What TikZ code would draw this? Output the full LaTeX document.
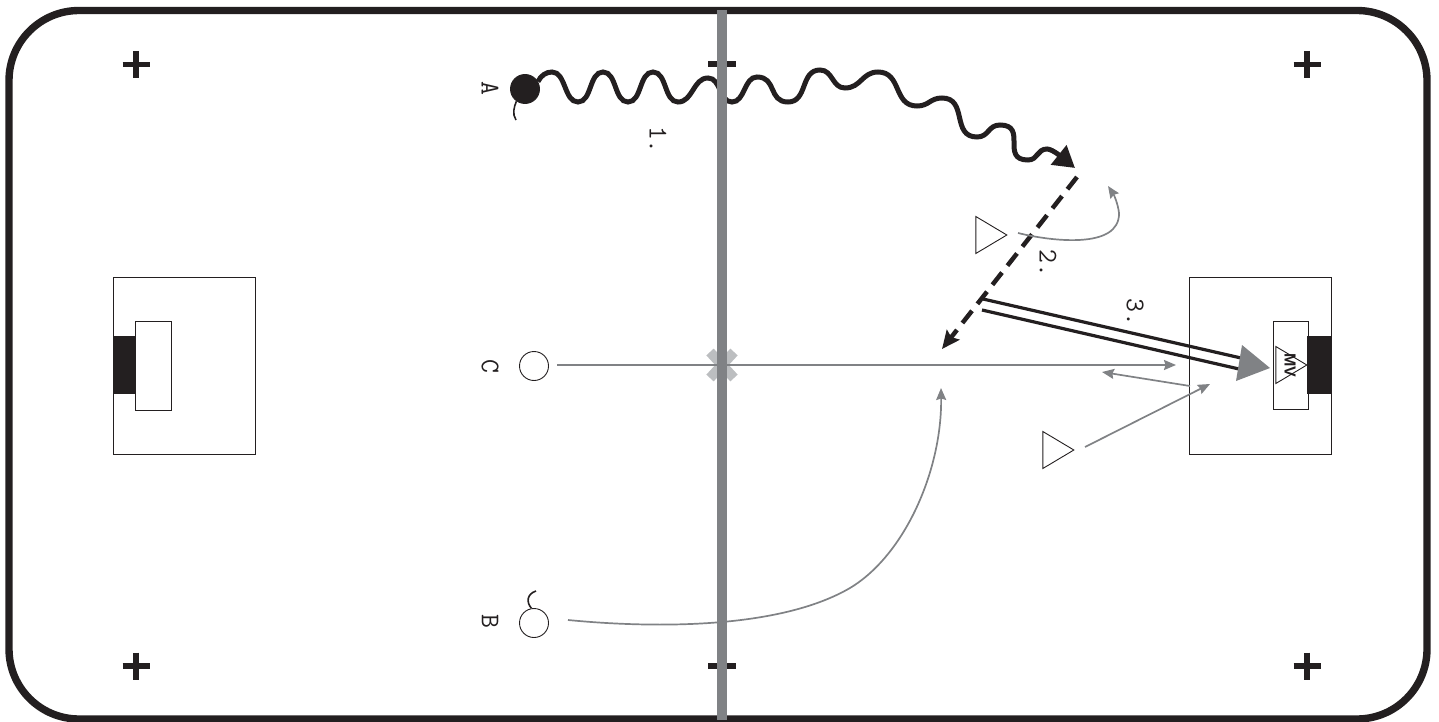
\documentclass[tikz,border=0pt]{standalone}
\usepackage{fontspec}
\setsansfont{Liberation Sans}
\usetikzlibrary{positioning,arrows.meta,shapes.geometric}
\definecolor{inkblack}{HTML}{231F20}
\definecolor{linegray}{HTML}{808285}
\definecolor{crossgray}{HTML}{BCBEC0}
\tikzset{
  rink/.style={draw=inkblack,line width=7.4pt,rounded corners=70pt},
  box/.style={draw=inkblack,line width=1pt},
  rinkmark/.style={draw=inkblack,line width=5.5pt},
  player/.style={circle,draw=inkblack,line width=0.9pt,fill=white,minimum size=29pt,inner sep=0pt},
  puck/.style={player,fill=inkblack},
  defender/.style={isosceles triangle,isosceles triangle stretches,draw=inkblack,line width=0.9pt,
    minimum height=31pt,minimum width=37pt,inner sep=0pt,anchor=apex},
  lbl/.style={font=\ttfamily\fontsize{27}{27}\selectfont,text=inkblack,rotate=-90,inner sep=0pt},
  tail/.style={draw=inkblack,line width=1.6pt},
  move/.style={draw=linegray,line width=1.7pt,-{Stealth[length=12pt,width=10pt,inset=1.5pt]}},
  skate/.style={draw=inkblack,line width=5pt,-{Triangle[length=21pt,width=24pt]}},
  pass/.style={draw=inkblack,line width=4.5pt,dash pattern=on 15.5pt off 8.8pt,-{Stealth[length=18pt,width=16pt,inset=3pt]}},
  shot/.style={draw=inkblack,line width=3.2pt},
}
\begin{document}
\begin{tikzpicture}[x=1pt,y=-1pt]
  \useasboundingbox (0,0) rectangle (1439,722);
  \draw[rink] (9,10.5) rectangle (1427,719);
  % goal boxes
  \draw[box] (113,277) rectangle (255,454);
  \fill[inkblack] (113,336) rectangle (136,394);
  \draw[box,fill=white] (135.5,321) rectangle (171,410);
  \draw[box] (1189,277) rectangle (1331,454);
  \fill[inkblack] (1307,336) rectangle (1331,394);
  \draw[box] (1273,321) rectangle (1308,409);
  % corner and centre marks
  \foreach \mx/\my in {136/64.5,1307/64.5,136/666,1307/666}{
    \draw[rinkmark] (\mx-13.5,\my) -- (\mx+13.5,\my) (\mx,\my-13.5) -- (\mx,\my+13.5);
  }
  \draw[rinkmark] (708,64) -- (736,64);
  \draw[rinkmark] (708,666) -- (736,666);
  \draw[crossgray,line width=10pt] (710,352) -- (734,378) (734,352) -- (710,378);
  % players
  \node[puck] (A) at (525,89) {};
  \node[player] (C) at (534,366) {};
  \node[player] (B) at (534,623) {};
  \node[defender] (D1) at (1008,235) {};
  \node[defender] (D2) at (1075,450) {};
  \node[defender] (G) at (1308,365) {};
  \node[font=\sffamily\bfseries\fontsize{16}{16}\selectfont,text=inkblack,rotate=-90,inner sep=0pt] (MV) at (1290,365) {MV};
  \node[lbl] (lblA) at (490,88) {A};
  \node[lbl] (lblB) at (490,621) {B};
  \node[lbl] (lblC) at (490,366) {C};
  \node[lbl] (lbl1) at (658,140) {1.};
  \node[lbl] (lbl2) at (1048,263) {2.};
  \node[lbl] (lbl3) at (1135,312) {3.};
  \coordinate (Atail) at (516,120);
  \coordinate (Btail) at (536,591);
  \draw[tail] (A.235) .. controls (514,107) and (512,114) .. (Atail);
  \draw[tail] (B.100) .. controls (526,602) and (527,594) .. (Btail);
  % skating line
  \coordinate (Aend) at (1075,168);
  \draw[skate] (A.30) .. controls +(3,-6) and +(-6,0) .. (552,72)
    .. controls +(14,0) and +(-14,0) .. (578,102)
    .. controls +(14,0) and +(-14,0) .. (603,72)
    .. controls +(14,0) and +(-14,0) .. (628,102)
    .. controls +(14,0) and +(-14,0) .. (653,72)
    .. controls +(14,0) and +(-14,0) .. (678,102)
    .. controls +(15,0) and +(-15,0) .. (708,78)
    .. controls +(13,0) and +(-13,0) .. (732,102)
    .. controls +(13,0) and +(-13,0) .. (757,77)
    .. controls +(20,0) and +(-20,0) .. (788,102)
    .. controls +(20,0) and +(-20,0) .. (820,70)
    .. controls +(13,0) and +(-13,0) .. (845,88)
    .. controls +(16,0) and +(-16,0) .. (878,72)
    .. controls +(24,0) and +(-24,0) .. (917,106)
    .. controls +(12,0) and +(-12,0) .. (942,98)
    .. controls +(26,0) and +(-26,0) .. (977,137)
    .. controls +(12,0) and +(-12,0) .. (1000,125)
    .. controls +(28,0) and +(-28,0) .. (1028,160)
    .. controls +(10,0) and +(-10,0) .. (1047,149)
    .. controls +(6,0) and +(-10,-8) .. (Aend);
  % passes and shot
  \coordinate (passS) at (1077,177);
  \coordinate (passE) at (942,349);
  \draw[pass] (passS) -- (passE);
  \coordinate (shotA1) at (983,299);
  \coordinate (shotA2) at (1241,358);
  \coordinate (shotB1) at (982,310);
  \coordinate (shotB2) at (1239,369);
  \draw[shot] (shotA1) -- (shotA2);
  \draw[shot] (shotB1) -- (shotB2);
  \coordinate (headT) at (1270,368);
  \coordinate (headU) at (1242,345);
  \coordinate (headL) at (1236,381);
  \fill[linegray] (headT) -- (headU) -- (headL) -- cycle;
  % player moves
  \coordinate (m1S) at (1018,233);
  \coordinate (m1E) at (1108,186);
  \draw[move] (m1S) .. controls (1050,241) and (1120,250) .. (1119,213) .. controls (1118,204) and (1114,195) .. (m1E);
  \coordinate (m2S) at (557,365);
  \coordinate (m2E) at (1176,365);
  \draw[move] (m2S) -- (m2E);
  \coordinate (m3S) at (1190,386);
  \coordinate (m3E) at (1102,372);
  \draw[move] (m3S) -- (m3E);
  \coordinate (m4S) at (1085,447);
  \coordinate (m4E) at (1210,384);
  \draw[move] (m4S) -- (m4E);
  \coordinate (m5S) at (568,620);
  \coordinate (m5E) at (941,388);
  \draw[move] (m5S) .. controls (650,628) and (778,630) .. (850,588) .. controls (905,555) and (942,470) .. (m5E);
  % centre line
  \coordinate (midT) at (722,10);
  \coordinate (midB) at (722,720);
  \draw[linegray,line width=10pt] (midT) -- (midB);
\end{tikzpicture}
\end{document}
